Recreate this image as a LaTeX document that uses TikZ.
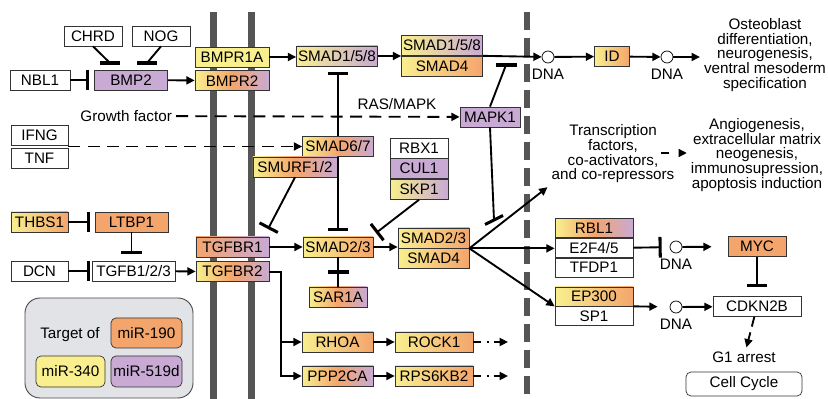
\documentclass[tikz,border=0pt]{standalone}
\usepackage{fontspec}
\setmainfont{Liberation Sans}
\usepackage{tikz}
\usetikzlibrary{positioning,arrows.meta}

\definecolor{miryellow}{RGB}{249,239,142}
\definecolor{mirorange}{RGB}{244,165,108}
\definecolor{mirpurple}{RGB}{200,170,212}
\definecolor{membranegray}{RGB}{85,85,85}
\definecolor{legendgray}{RGB}{226,227,231}

\begin{document}
\begin{tikzpicture}[x=0.03cm, y=-0.03cm,
    every node/.style = {align=center, font={\fontsize{13}{12.5}\selectfont}},
    gene/.style = {draw=black!80, line width=0.6pt, minimum height=0.6cm, inner sep=1pt},
    y2o/.style = {left color=miryellow, right color=mirorange},
    y2p/.style = {left color=miryellow, right color=mirpurple},
    o2p/.style = {left color=mirorange, right color=mirpurple},
    yop/.style = {left color=miryellow, right color=mirpurple, middle color=mirorange},
    dna/.style = {circle, draw, line width=0.6pt, minimum size=0.36cm, inner sep=0pt,
                  label={[label distance=1.5pt]below:DNA}},
    link/.style = {line width=1.6pt},
    tee/.style = {line width=2.6pt},
    act/.style = {line width=1.6pt, -{Triangle[length=0.25cm, width=0.24cm]}},
    inh/.style = {line width=1.6pt, -{Bar[width=0.62cm, line width=2.6pt]}},
    dashlink/.style = {act, dash pattern=on 0.36cm off 0.22cm},
    trail/.style = {act, dash pattern=on 0.24cm off 0.16cm on 0.07cm off 0.14cm}]
    \useasboundingbox (0,0) rectangle (828,399);

    % membranes
    \fill[membranegray] (210,12) rectangle (217,399);
    \fill[membranegray] (248,12) rectangle (255,399);
    \draw[membranegray, line width=0.18cm, dash pattern=on 0.54cm off 0.24cm] (527,12) -- (527,399);

    \node[gene, minimum width=1.74cm] (chrd) at (93,36) {CHRD};
    \node[gene, minimum width=1.74cm] (nog) at (161,36) {NOG};
    \node[gene, minimum width=1.8cm] (nbl1) at (40,80) {NBL1};
    \node[gene, fill=mirpurple, minimum width=2.19cm] (bmp2) at (131,80) {BMP2};
    \node[gene, fill=miryellow, minimum width=2.22cm] (bmpr1a) at (232,57) {BMPR1A};
    \node[gene, yop, minimum width=2.22cm, below=0.09cm of bmpr1a] (bmpr2) {BMPR2};
    \node[gene, y2p, minimum width=2.43cm] (smad158) at (337,56) {SMAD1/5/8};
    \node[gene, y2p, minimum width=2.43cm] (cx158a) at (442,45.5) {SMAD1/5/8};
    \node[gene, y2o, minimum width=2.43cm, below=0pt of cx158a] (cx158b) {SMAD4};
    \node[dna] (dna1) at (548,57) {};
    \node[gene, y2o, minimum width=1.05cm] (id) at (612,56.5) {ID};
    \node[dna] (dna2) at (667,57) {};
    \node (osteo) at (765,55) {Osteoblast\\differentiation,\\neurogenesis,\\ventral mesoderm\\specification};

    \node[anchor=east] (growth) at (176,116) {Growth factor};
    \node (rasmapk) at (397,104) {RAS/MAPK};
    \node[gene, fill=mirpurple, minimum width=1.8cm] (mapk1) at (490,117) {MAPK1};
    \node[gene, minimum width=1.71cm] (ifng) at (39.5,135) {IFNG};
    \node[gene, minimum width=1.71cm, below=0.09cm of ifng] (tnf) {TNF};
    \node[gene, yop, minimum width=2.13cm] (smad67) at (338,146.5) {SMAD6/7};
    \node[gene, yop, minimum width=2.52cm] (smurf) at (295,167) {SMURF1/2};
    \node[gene, minimum width=1.74cm] (rbx1) at (419,148) {RBX1};
    \node[gene, fill=mirpurple, minimum width=1.74cm, below=0pt of rbx1] (cul1) {CUL1};
    \node[gene, y2p, minimum width=1.74cm, below=0pt of cul1] (skp1) {SKP1};

    \node[gene, y2o, minimum width=1.71cm] (thbs1) at (39.5,222) {THBS1};
    \node[gene, fill=mirorange, minimum width=2.19cm] (ltbp1) at (131.5,222) {LTBP1};
    \node[gene, minimum width=1.71cm] (dcn) at (39.5,271) {DCN};
    \node[gene, minimum width=2.49cm] (tgfb) at (133.5,271) {TGFB1/2/3};
    \node[gene, o2p, minimum width=2.19cm] (tgfbr1) at (232.5,247) {TGFBR1};
    \node[gene, yop, minimum width=2.19cm, below=0.12cm of tgfbr1] (tgfbr2) {TGFBR2};
    \node[gene, y2o, minimum width=2.1cm] (smad23) at (338,247) {SMAD2/3};
    \node[gene, yop, minimum width=1.74cm] (sar1a) at (338,297) {SAR1A};
    \node[gene, y2o, minimum width=2.13cm] (cx23a) at (433.5,238) {SMAD2/3};
    \node[gene, y2o, minimum width=2.13cm, below=0pt of cx23a] (cx23b) {SMAD4};
    \node[gene, y2o, minimum width=2.13cm] (rhoa) at (337.5,342) {RHOA};
    \node[gene, y2o, minimum width=2.34cm] (rock1) at (434,342) {ROCK1};
    \node[gene, yop, minimum width=2.13cm] (ppp2ca) at (337.5,376) {PPP2CA};
    \node[gene, y2o, minimum width=2.34cm] (rps6kb2) at (434,376) {RPS6KB2};

    \node (trans) at (613,154) {Transcription\\factors,\\co-activators,\\and co-repressors};
    \node (angio) at (757,155) {Angiogenesis,\\extracellular matrix\\neogenesis,\\immunosupression,\\apoptosis induction};
    \node[gene, yop, minimum width=2.34cm, minimum height=0.57cm] (rbl1) at (594,228) {RBL1};
    \node[gene, minimum width=2.34cm, minimum height=0.57cm, below=0pt of rbl1] (e2f) {E2F4/5};
    \node[gene, minimum width=2.34cm, minimum height=0.57cm, below=0pt of e2f] (tfdp1) {TFDP1};
    \node[dna] (dna3) at (676,247) {};
    \node[gene, fill=mirorange, minimum width=1.74cm] (myc) at (757,246.5) {MYC};
    \node[gene, y2o, minimum width=2.34cm, minimum height=0.57cm] (ep300) at (594,296.5) {EP300};
    \node[gene, minimum width=2.34cm, minimum height=0.57cm, below=0pt of ep300] (sp1) {SP1};
    \node[dna] (dna4) at (676,307) {};
    \node[gene, minimum width=2.64cm] (cdkn2b) at (757,306.5) {CDKN2B};
    \node (g1) at (744,357) {G1 arrest};
    \node[gene, rounded corners=0.15cm, minimum width=3.48cm, minimum height=0.72cm] (cellcycle) at (744,384) {Cell Cycle};

    \node[draw=black!70, fill=legendgray, line width=0.8pt, rounded corners=0.45cm,
          minimum width=5.04cm, minimum height=3cm] (legend) at (109,348) {};
    \node (target) at (70,335) {Target of};
    \node[gene, fill=mirorange, rounded corners=0.15cm, minimum width=2.13cm, minimum height=0.9cm] (mir190) at (146.5,333) {miR-190};
    \node[gene, fill=miryellow, rounded corners=0.15cm, minimum width=2.07cm, minimum height=0.93cm] (mir340) at (70.5,371.5) {miR-340};
    \node[gene, fill=mirpurple, rounded corners=0.15cm, minimum width=2.13cm, minimum height=0.93cm] (mir519d) at (146.5,371.5) {miR-519d};

    \coordinate (chrdbar) at (110,63);
    \coordinate (nogbar) at (147,63);
    \draw[link] (chrd.south) -- (chrdbar);
    \draw[tee] (chrdbar) ++(-10,0) -- ++(20,0);
    \draw[link] (nog.south) -- (nogbar);
    \draw[tee] (nogbar) ++(-10,0) -- ++(20,0);
    \draw[inh, shorten >=0.15cm] (nbl1) -- (bmp2);
    \draw[act] (bmp2) -- (bmpr2);
    \draw[act] (bmpr1a.east) -- (bmpr1a.east -| smad158.west);
    \draw[act] (smad158.east) -- (smad158.east -| cx158a.west);
    \draw[act] (cx158a.south east) -- (dna1);
    \draw[act] (dna1) -- (id);
    \draw[act] (id) -- (dna2);
    \draw[act] (dna2.east) -- (dna2.east -| osteo.west);

    \draw[dashlink] (growth) -- (mapk1);
    \coordinate (mapkbar1) at (506,65);
    \draw[link] (mapk1.north) -- (mapkbar1);
    \draw[tee] (mapkbar1) ++(-10,0) -- ++(21,0);
    \coordinate (mapkbar2) at (494,220);
    \draw[link] (mapk1.south) -- (mapkbar2);
    \draw[tee] (mapkbar2) ++(-9,4.5) -- ++(18,-9);
    \draw[dashlink] (smad67.west -| ifng.east) -- (smad67.west);
    \draw[inh, shorten >=0.18cm] (smad67.north) -- (smad67.north |- smad158.south);
    \draw[inh, shorten >=0.18cm] (smad67.south) -- (smad23.north);
    \coordinate (smurfbar) at (268,229);
    \draw[inh] (smurf.south) -- (smurfbar);
    \coordinate (skpbar) at (376,233);
    \draw[inh] (skp1.south) -- (skpbar);

    \draw[inh, shorten >=0.15cm] (thbs1) -- (ltbp1);
    \draw[inh, shorten >=0.2cm] (ltbp1.south) -- (ltbp1.south |- tgfb.north);
    \draw[inh, shorten >=0.06cm] (dcn) -- (tgfb);
    \draw[act] (tgfb) -- (tgfbr2);
    \draw[act] (tgfbr1) -- (smad23);
    \draw[act] (smad23.east) -- (smad23.east -| cx23a.west);
    \draw[link] (smad23) -- coordinate (sarbar) (sar1a);
    \draw[tee] (sarbar) ++(-10,0) -- ++(21,0);
    \draw[act] (tgfbr2.east) -- ++(12,0) |- (ppp2ca.west);
    \draw[act] (tgfbr2.east) ++(12,0) |- (rhoa.west);
    \draw[act] (rhoa) -- (rock1);
    \draw[act] (ppp2ca) -- (rps6kb2);
    \coordinate (rockend) at (508,342);
    \coordinate (rpsend) at (508,376);
    \draw[trail] (rock1) -- (rockend);
    \draw[trail] (rps6kb2) -- (rpsend);

    \draw[act] (cx23a.south east) -- (trans.south west);
    \draw[act] (cx23a.south east) -- (cx23a.south east -| e2f.west);
    \draw[act] (cx23a.south east) -- (ep300.south west);
    \coordinate (tfout) at (661,153);
    \draw[act, dash pattern=on 0.25cm off 0.3cm] (tfout) -- (tfout -| angio.west);
    \draw[inh, shorten >=0.24cm] (e2f.east) -- (dna3);
    \draw[act, shorten >=0.48cm] (dna3) -- (myc);
    \draw[inh, shorten >=0.27cm] (myc) -- (cdkn2b);
    \draw[act, shorten >=0.36cm] (ep300.south east) -- (dna4);
    \draw[act] (dna4) -- (cdkn2b);
    \draw[act, dash pattern=on 0.3cm off 0.18cm] (cdkn2b) -- (g1);
\end{tikzpicture}
\end{document}
